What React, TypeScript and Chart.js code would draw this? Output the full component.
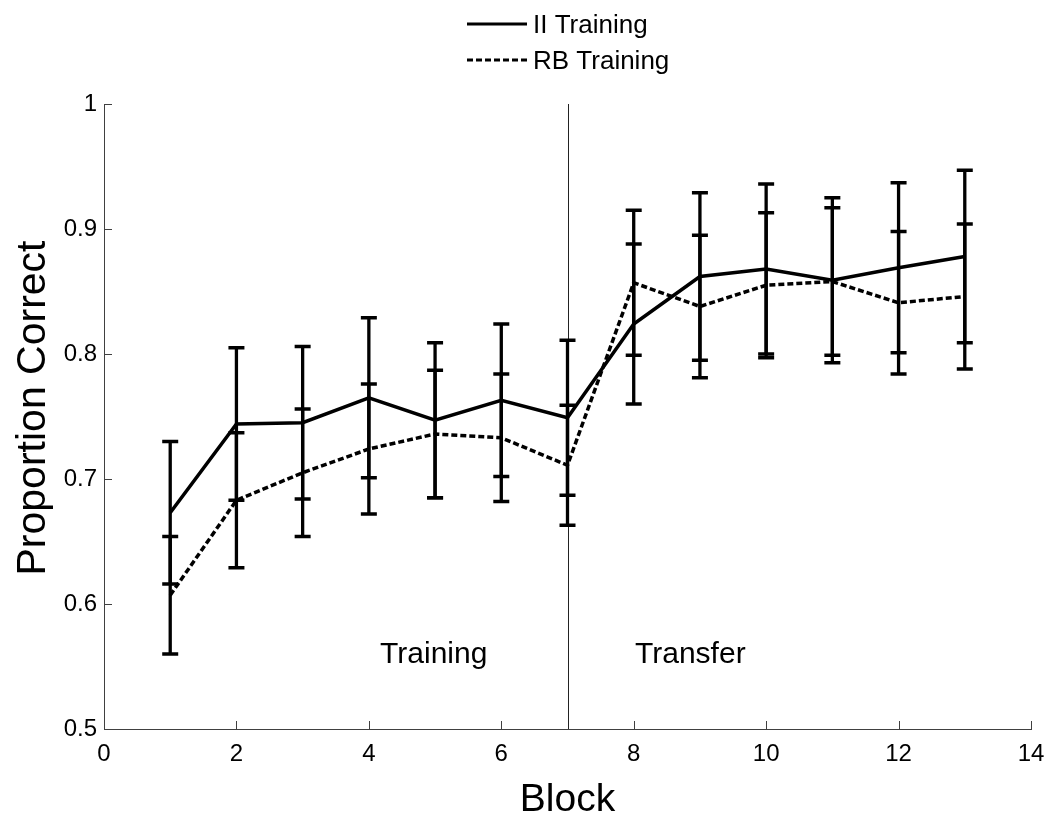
import { useEffect, useRef } from "react";
import { Chart, registerables } from "chart.js";

Chart.register(...registerables);

const FONT = "'Liberation Sans', Arial, Helvetica, sans-serif";

const blocks = [1, 2, 3, 4, 5, 6, 7, 8, 9, 10, 11, 12, 13];
const iiMean = [0.673, 0.744, 0.745, 0.765, 0.747, 0.763, 0.749, 0.824, 0.862, 0.868, 0.859, 0.869, 0.878];
const iiErr = [0.057, 0.061, 0.061, 0.064, 0.062, 0.061, 0.062, 0.064, 0.067, 0.068, 0.066, 0.068, 0.069];
const rbMean = [0.607, 0.683, 0.705, 0.724, 0.736, 0.733, 0.711, 0.857, 0.838, 0.855, 0.858, 0.841, 0.846];
const rbErr = [0.047, 0.054, 0.051, 0.052, 0.051, 0.051, 0.048, 0.058, 0.057, 0.058, 0.059, 0.057, 0.058];

const seriesNames = ["II Training", "RB Training"];
const xTicks = [0, 2, 4, 6, 8, 10, 12, 14];
const yTicks = [0.5, 0.6, 0.7, 0.8, 0.9, 1];
const dividerBlock = 7;
const phaseLabels = [
  { text: "Training", x: 4.17, y: 0.553 },
  { text: "Transfer", x: 8.02, y: 0.553 },
];

const RB_DASH = [6, 3];
const AXIS_COLOR = "#404040";

const extrasPlugin = {
  id: "extras",
  afterDatasetsDraw(chart: any) {
    const { ctx, scales, chartArea } = chart;
    const xs = scales.x;
    const ys = scales.y;
    ctx.save();

    // divider line
    ctx.strokeStyle = "#222";
    ctx.lineWidth = 1;
    ctx.beginPath();
    const dx = Math.round(xs.getPixelForValue(dividerBlock)) + 0.5;
    ctx.moveTo(dx, ys.getPixelForValue(1));
    ctx.lineTo(dx, ys.getPixelForValue(0.5));
    ctx.stroke();

    // error bars
    const drawErr = (means: number[], errs: number[]) => {
      ctx.strokeStyle = "#000";
      ctx.lineWidth = 3.3;
      ctx.setLineDash([]);
      means.forEach((m, i) => {
        const px = xs.getPixelForValue(blocks[i]);
        const top = ys.getPixelForValue(m + errs[i]);
        const bot = ys.getPixelForValue(m - errs[i]);
        ctx.beginPath();
        ctx.moveTo(px, top);
        ctx.lineTo(px, bot);
        ctx.moveTo(px - 8, top);
        ctx.lineTo(px + 8, top);
        ctx.moveTo(px - 8, bot);
        ctx.lineTo(px + 8, bot);
        ctx.stroke();
      });
    };
    drawErr(iiMean, iiErr);
    drawErr(rbMean, rbErr);

    // inward ticks
    ctx.lineWidth = 1;
    ctx.strokeStyle = AXIS_COLOR;
    ctx.beginPath();
    xTicks.forEach((t) => {
      const px = Math.round(xs.getPixelForValue(t)) + 0.5;
      ctx.moveTo(px, chartArea.bottom);
      ctx.lineTo(px, chartArea.bottom - 8);
    });
    yTicks.forEach((t) => {
      const py = Math.round(ys.getPixelForValue(t)) + 0.5;
      ctx.moveTo(chartArea.left, py);
      ctx.lineTo(chartArea.left + 8, py);
    });
    ctx.stroke();

    // phase labels
    ctx.fillStyle = "#000";
    ctx.font = `30px ${FONT}`;
    ctx.textAlign = "left";
    ctx.textBaseline = "alphabetic";
    phaseLabels.forEach((p) => {
      ctx.fillText(p.text, xs.getPixelForValue(p.x), ys.getPixelForValue(p.y));
    });

    // axis titles
    ctx.font = `39px ${FONT}`;
    ctx.textAlign = "center";
    ctx.fillText("Block", (chartArea.left + chartArea.right) / 2, 811);
    ctx.save();
    ctx.font = `41px ${FONT}`;
    ctx.translate(45, 408);
    ctx.rotate(-Math.PI / 2);
    ctx.fillText("Proportion Correct", 0, 0);
    ctx.restore();

    // legend
    ctx.font = `26px ${FONT}`;
    ctx.textAlign = "left";
    ctx.textBaseline = "middle";
    ctx.strokeStyle = "#000";
    ctx.lineWidth = 3;
    ctx.beginPath();
    ctx.moveTo(467, 24);
    ctx.lineTo(527, 24);
    ctx.stroke();
    ctx.fillText(seriesNames[0], 533, 26);
    ctx.setLineDash(RB_DASH);
    ctx.beginPath();
    ctx.moveTo(467, 60);
    ctx.lineTo(527, 60);
    ctx.stroke();
    ctx.setLineDash([]);
    ctx.fillText(seriesNames[1], 533, 62);

    ctx.restore();
  },
};

export default function App() {
  const ref = useRef<HTMLCanvasElement | null>(null);
  useEffect(() => {
    if (!ref.current) return;
    const chart = new Chart(ref.current, {
      type: "line",
      data: {
        datasets: [
          {
            label: seriesNames[0],
            data: blocks.map((b, i) => ({ x: b, y: iiMean[i] })),
            borderColor: "#000",
            borderWidth: 3.5,
            pointRadius: 0,
            fill: false,
            tension: 0,
          },
          {
            label: seriesNames[1],
            data: blocks.map((b, i) => ({ x: b, y: rbMean[i] })),
            borderColor: "#000",
            borderWidth: 3.5,
            borderDash: RB_DASH,
            pointRadius: 0,
            fill: false,
            tension: 0,
          },
        ],
      },
      options: {
        responsive: false,
        animation: false,
        layout: { padding: { left: 0, right: 19, top: 104, bottom: 0 } },
        plugins: { legend: { display: false }, tooltip: { enabled: false } },
        scales: {
          x: {
            type: "linear",
            min: 0,
            max: 14,
            afterBuildTicks: (s: any) => {
              s.ticks = xTicks.map((v) => ({ value: v }));
            },
            afterFit: (s: any) => {
              s.height = 98;
              s.paddingLeft = 0;
              s.paddingRight = 0;
            },
            grid: { display: false, drawTicks: false },
            border: { display: true, color: AXIS_COLOR, width: 1 },
            ticks: {
              color: "#000",
              font: { family: FONT, size: 24 },
              padding: 11,
              maxRotation: 0,
              autoSkip: false,
            },
          },
          y: {
            type: "linear",
            min: 0.5,
            max: 1,
            afterBuildTicks: (s: any) => {
              s.ticks = yTicks.map((v) => ({ value: v }));
            },
            afterFit: (s: any) => {
              s.width = 104;
              s.paddingTop = 0;
              s.paddingBottom = 0;
            },
            grid: { display: false, drawTicks: false },
            border: { display: true, color: AXIS_COLOR, width: 1 },
            ticks: {
              color: "#000",
              font: { family: FONT, size: 24 },
              padding: 7,
              autoSkip: false,
              callback: (v: any) => String(Math.round(Number(v) * 10) / 10),
            },
          },
        },
      },
      plugins: [extrasPlugin],
    });
    return () => chart.destroy();
  }, []);
  return (
    <div style={{ position: "fixed", left: 0, top: 0, width: 1050, height: 827, background: "#fff" }}>
      <canvas ref={ref} width={1050} height={827} style={{ width: 1050, height: 827 }} />
    </div>
  );
}
